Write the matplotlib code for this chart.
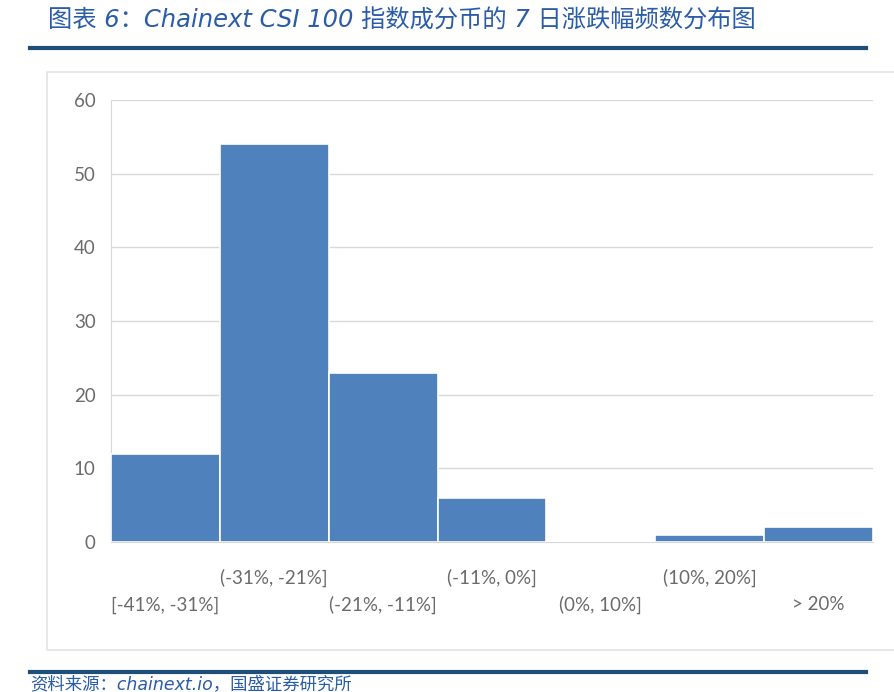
import matplotlib.pyplot as plt
from matplotlib.patches import Rectangle
from matplotlib.lines import Line2D

plt.rcParams['font.family'] = ['Lato', 'Noto Sans CJK SC', 'DejaVu Sans']

bins = ['[-41%, -31%]', '(-31%, -21%]', '(-21%, -11%]', '(-11%, 0%]',
        '(0%, 10%]', '(10%, 20%]', '> 20%']
counts = [12, 54, 23, 6, 0, 1, 2]
yticks = [0, 10, 20, 30, 40, 50, 60]

title = '图表 6：Chainext CSI 100 指数成分币的 7 日涨跌幅频数分布图'
source = '资料来源：chainext.io，国盛证券研究所'

W, H = 894, 692
fig = plt.figure(figsize=(W / 100, H / 100), dpi=100)

# outer chart frame
fig.patches.append(Rectangle((47 / W, 1 - 650 / H), 900 / W, 578 / H,
                             transform=fig.transFigure, fill=False,
                             edgecolor='#e3e3e3', linewidth=1.2))
# title / source rules
for yy in (48, 672):
    fig.lines.append(Line2D([30 / W, 866 / W], [1 - yy / H, 1 - yy / H],
                            transform=fig.transFigure, color='#1f4e79',
                            linewidth=3))
fig.text(48 / W, 1 - 21 / H, title, fontsize=17.5, style='italic',
         color='#2a5ca8', va='center', ha='left',
         family=['DejaVu Sans', 'Noto Sans CJK SC'])
fig.text(30 / W, 1 - 675 / H, source, fontsize=12.5, style='italic',
         color='#2a5ca8', va='top', ha='left',
         family=['DejaVu Sans', 'Noto Sans CJK SC'])

ax = fig.add_axes([111 / W, 1 - 542 / H, 762 / W, 442 / H])
x = list(range(len(bins)))
ax.bar(x, counts, width=1.0, color='#4f81bd', edgecolor='white',
       linewidth=1.2, zorder=3)
ax.set_xlim(-0.5, len(bins) - 0.5)
ax.set_ylim(0, 60)
ax.set_yticks(yticks)
ax.grid(axis='y', color='#d9d9d9', linewidth=1)
ax.set_axisbelow(True)
for s in ('top', 'right'):
    ax.spines[s].set_visible(False)
ax.spines['left'].set_color('#d9d9d9')
ax.spines['bottom'].set_color('#d9d9d9')
ax.tick_params(length=0, labelsize=13.5, labelcolor='#6b6b6b')
ax.tick_params(axis='y', pad=11)
ax.set_xticks(x)
ax.set_xticklabels(bins)
for i, tick in enumerate(ax.xaxis.get_major_ticks()):
    tick.set_pad(19 if i % 2 else 39)

fig.savefig('out.png', dpi=100)
